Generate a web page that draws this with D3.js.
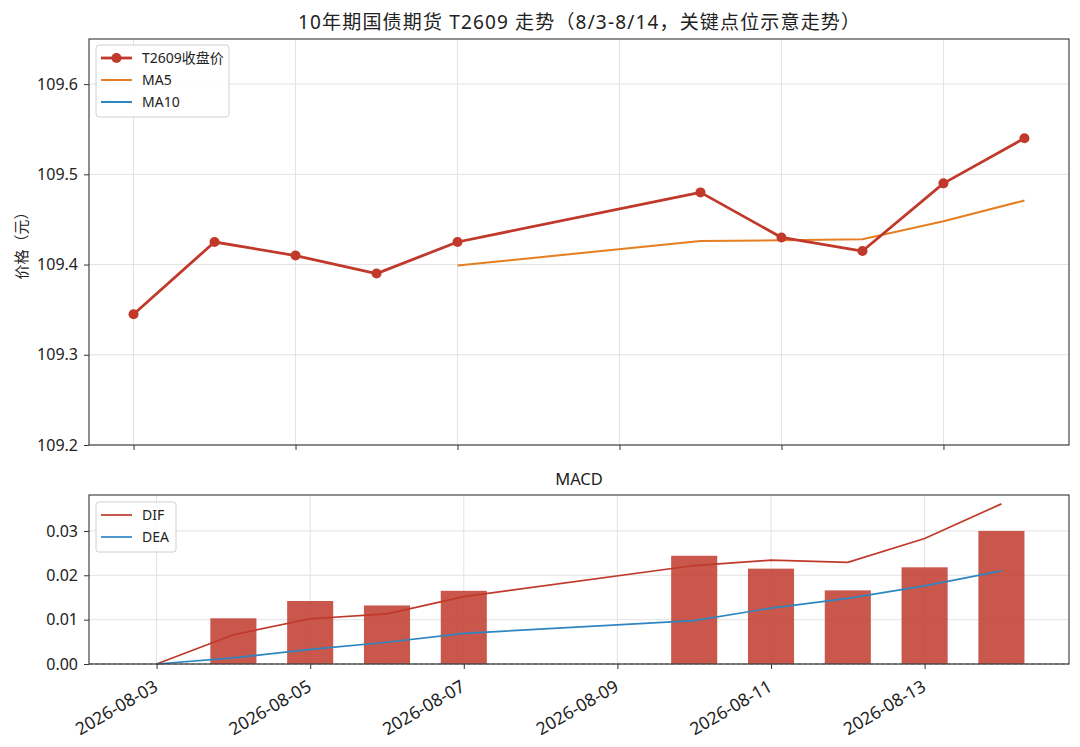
<!DOCTYPE html>
<html>
<head>
<meta charset="utf-8">
<script src="https://cdn.jsdelivr.net/npm/d3@7/dist/d3.min.js"></script>
<style>
  body { margin: 0; background: #fff; }
  svg { display: block; font-family: "Noto Sans", "Noto Sans CJK SC", sans-serif; }
</style>
</head>
<body>
<svg id="chart" width="1080" height="747"></svg>
<script>
// trading days and values
var dates = ["2026-08-03", "2026-08-04", "2026-08-05", "2026-08-06", "2026-08-07",
             "2026-08-10", "2026-08-11", "2026-08-12", "2026-08-13", "2026-08-14"];
var close = [109.345, 109.425, 109.41, 109.39, 109.425, 109.48, 109.43, 109.415, 109.49, 109.54];
var ma5   = [null, null, null, null, 109.399, 109.426, 109.427, 109.428, 109.448, 109.471];
var ma10  = [null, null, null, null, null, null, null, null, null, 109.435];
var dif   = [0, 0.0066, 0.0102, 0.0113, 0.0152, 0.0222, 0.0234, 0.0229, 0.0283, 0.0361];
var dea   = [0, 0.0014, 0.0033, 0.0049, 0.0069, 0.0098, 0.0126, 0.0148, 0.0176, 0.0210];
var hist  = [0, 0.0103, 0.0142, 0.0132, 0.0165, 0.0244, 0.0215, 0.0166, 0.0218, 0.0300];
var tickDates = ["2026-08-03", "2026-08-05", "2026-08-07", "2026-08-09", "2026-08-11", "2026-08-13"];
var priceTicks = [109.2, 109.3, 109.4, 109.5, 109.6];
var macdTicks = [0, 0.01, 0.02, 0.03];

var RED = "#c0392b", ORANGE = "#e67e22", BLUE = "#2e86c1";
var parse = d3.utcParse("%Y-%m-%d");
var days = dates.map(parse);
var DAY = 864e5;

var svg = d3.select("#chart");
var left = 89, right = 1069;

function shift(d, n) { return new Date(d.getTime() + n * DAY); }

// ---- top panel
var top1 = 39, bot1 = 445;
var x1 = d3.scaleUtc().domain([shift(days[0], -0.55), shift(days[9], 0.55)]).range([left, right]);
var y1 = d3.scaleLinear().domain([109.2, 109.65]).range([bot1, top1]);

// ---- bottom panel
var top2 = 495, bot2 = 664;
var x2 = d3.scaleUtc().domain([shift(days[0], -0.88), shift(days[9], 0.88)]).range([left, right]);
var y2 = d3.scaleLinear().domain([0, 0.0381]).range([bot2, top2]);

function grid(g, x, y, yt, t, b) {
  g.selectAll(".gx").data(tickDates).enter().append("line")
    .attr("x1", function(d) { return x(parse(d)); }).attr("x2", function(d) { return x(parse(d)); })
    .attr("y1", t).attr("y2", b).attr("stroke", "#e3e3e3").attr("stroke-width", 1);
  g.selectAll(".gy").data(yt).enter().append("line")
    .attr("x1", left).attr("x2", right)
    .attr("y1", function(d) { return y(d); }).attr("y2", function(d) { return y(d); })
    .attr("stroke", "#e3e3e3").attr("stroke-width", 1);
}

var g1 = svg.append("g");
grid(g1, x1, y1, priceTicks, top1, bot1);

var line1 = d3.line().defined(function(d) { return d[1] != null; })
  .x(function(d) { return x1(d[0]); }).y(function(d) { return y1(d[1]); });

g1.append("path").datum(d3.zip(days, ma10)).attr("d", line1)
  .attr("fill", "none").attr("stroke", BLUE).attr("stroke-width", 2);
g1.append("path").datum(d3.zip(days, ma5)).attr("d", line1)
  .attr("fill", "none").attr("stroke", ORANGE).attr("stroke-width", 2);
g1.append("path").datum(d3.zip(days, close)).attr("d", line1)
  .attr("fill", "none").attr("stroke", RED).attr("stroke-width", 2.8).attr("stroke-linejoin", "round");
g1.selectAll(".pt").data(d3.zip(days, close)).enter().append("circle")
  .attr("cx", function(d) { return x1(d[0]); }).attr("cy", function(d) { return y1(d[1]); })
  .attr("r", 5).attr("fill", RED);

g1.append("g").attr("transform", "translate(" + left + ",0)")
  .call(d3.axisLeft(y1).tickValues(priceTicks).tickFormat(d3.format(".1f")).tickSize(5).tickPadding(6));
g1.append("g").attr("transform", "translate(0," + bot1 + ")")
  .call(d3.axisBottom(x1).tickValues(tickDates.map(parse)).tickFormat("").tickSize(5));

g1.append("rect").attr("x", left).attr("y", top1).attr("width", right - left).attr("height", bot1 - top1)
  .attr("fill", "none").attr("stroke", "#333").attr("stroke-width", 1.1);

svg.append("text").attr("x", (left + right) / 2).attr("y", 29).attr("text-anchor", "middle")
  .attr("font-size", 19).attr("fill", "#222")
  .attr("textLength", 562).attr("lengthAdjust", "spacing")
  .text("10年期国债期货 T2609 走势（8/3-8/14，关键点位示意走势）");
svg.append("text").attr("transform", "translate(27," + (top1 + bot1) / 2 + ") rotate(-90)")
  .attr("text-anchor", "middle").attr("font-size", 15).attr("fill", "#222").text("价格（元）");

// ---- bottom panel
var g2 = svg.append("g");
grid(g2, x2, y2, macdTicks, top2, bot2);

var bw = x2(shift(days[0], 0.6)) - x2(days[0]);
g2.selectAll(".bar").data(d3.zip(days, hist)).enter().append("rect")
  .attr("x", function(d) { return x2(d[0]) - bw / 2; })
  .attr("y", function(d) { return y2(d[1]); })
  .attr("width", bw)
  .attr("height", function(d) { return y2(0) - y2(d[1]); })
  .attr("fill", RED).attr("fill-opacity", 0.85);

g2.append("line").attr("x1", left).attr("x2", right).attr("y1", y2(0)).attr("y2", y2(0))
  .attr("stroke", "#888").attr("stroke-width", 1).attr("stroke-dasharray", "4,2");

var line2 = d3.line().x(function(d) { return x2(d[0]); }).y(function(d) { return y2(d[1]); });
g2.append("path").datum(d3.zip(days, dif)).attr("d", line2)
  .attr("fill", "none").attr("stroke", RED).attr("stroke-width", 1.7);
g2.append("path").datum(d3.zip(days, dea)).attr("d", line2)
  .attr("fill", "none").attr("stroke", BLUE).attr("stroke-width", 1.7);

g2.append("g").attr("transform", "translate(" + left + ",0)")
  .call(d3.axisLeft(y2).tickValues(macdTicks).tickFormat(d3.format(".2f")).tickSize(5).tickPadding(6));
var bx2 = g2.append("g").attr("transform", "translate(0," + bot2 + ")")
  .call(d3.axisBottom(x2).tickValues(tickDates.map(parse)).tickFormat(d3.utcFormat("%Y-%m-%d")).tickSize(5));

g2.append("rect").attr("x", left).attr("y", top2).attr("width", right - left).attr("height", bot2 - top2)
  .attr("fill", "none").attr("stroke", "#333").attr("stroke-width", 1.1);

svg.append("text").attr("x", (left + right) / 2).attr("y", 485).attr("text-anchor", "middle")
  .attr("font-size", 16.5).attr("fill", "#222").text("MACD");

// axis styling like matplotlib
svg.selectAll(".tick text").attr("font-size", 16).attr("fill", "#222")
  .attr("font-family", "'Noto Sans', 'Noto Sans CJK SC', sans-serif");
svg.selectAll(".tick line").attr("stroke", "#333");
svg.selectAll(".domain").remove();

// rotated date labels, right end at the tick
bx2.selectAll("text")
  .attr("text-anchor", "end").attr("dy", null).attr("y", 0).attr("font-size", 17.5)
  .attr("transform", "translate(2,26) rotate(-30)");

// ---- legends
function legend(x, y, w, items) {
  var lg = svg.append("g").attr("transform", "translate(" + x + "," + y + ")");
  lg.append("rect").attr("width", w).attr("height", items.length * 22 + 6).attr("rx", 3)
    .attr("fill", "#fff").attr("fill-opacity", 0.85).attr("stroke", "#d0d0d0");
  items.forEach(function(it, i) {
    var cy = 13 + i * 22;
    lg.append("line").attr("x1", 5).attr("x2", 36).attr("y1", cy).attr("y2", cy)
      .attr("stroke", it.color).attr("stroke-width", it.width);
    if (it.marker) lg.append("circle").attr("cx", 20.5).attr("cy", cy).attr("r", 5).attr("fill", it.color);
    lg.append("text").attr("x", 46).attr("y", cy + 5).attr("font-size", 14).attr("fill", "#222").text(it.name);
  });
}
legend(96, 45, 133, [
  { name: "T2609收盘价", color: RED, width: 2.8, marker: true },
  { name: "MA5", color: ORANGE, width: 2 },
  { name: "MA10", color: BLUE, width: 2 }
]);
legend(96, 502, 80, [
  { name: "DIF", color: RED, width: 1.7 },
  { name: "DEA", color: BLUE, width: 1.7 }
]);
</script>
</body>
</html>
